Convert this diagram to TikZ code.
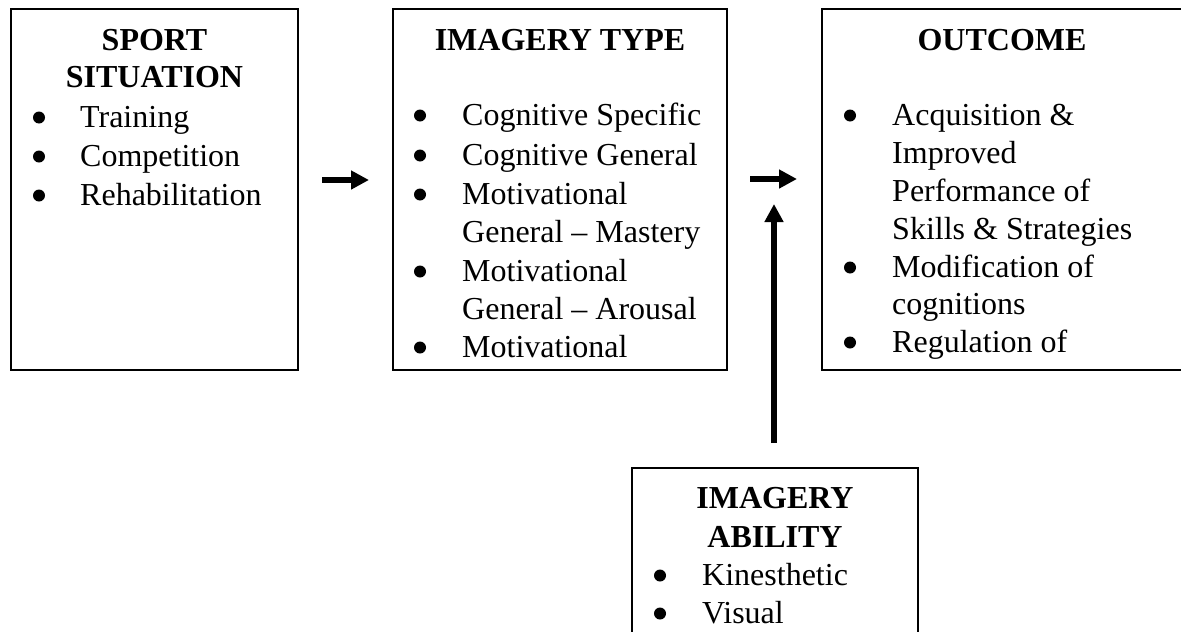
\documentclass[tikz,border=0pt]{standalone}
\usepackage{fontspec}
\setmainfont{Liberation Serif}
\usetikzlibrary{arrows.meta}
\begin{document}
\begin{tikzpicture}[x=1pt,y=-1pt,
  box/.style={draw=black,line width=1.6pt,fill=none},
  ttl/.style={anchor=base,inner sep=0pt,font=\fontsize{32}{39}\selectfont\bfseries},
  txt/.style={anchor=base west,inner sep=0pt,font=\fontsize{32}{39}\selectfont},
  bul/.style={circle,fill=black,inner sep=0pt,minimum size=12pt,yshift=9.5pt},
  arr/.style={line width=6pt,-{Triangle[length=18pt,width=18pt]}}]
\useasboundingbox (0,0) rectangle (1181,632);
\fill[white] (0,0) rectangle (1181,632);
% boxes
\draw[box] (11,9) rectangle (298,370);
\draw[box] (393,9) rectangle (727,370);
\draw[box] (822,9) rectangle (1190,370);
\draw[box] (632,640) -- (632,468) -- (918,468) -- (918,640);
% box 1
\node[ttl] (t1a) at (154.5,50) {SPORT};
\node[ttl] (t1b) at (154.5,87) {SITUATION};
\foreach \yy/\tt [count=\i] in {127/Training,166/Competition,205/Rehabilitation}{
  \node[bul] (sb\i) at (39,\yy) {};
  \node[txt] (s\i) at (80,\yy) {\tt};
}
% box 2
\node[ttl] (t2) at (560,50) {IMAGERY TYPE};
\foreach \yy in {125,165,204,281,357}{
  \node[bul] (ib\yy) at (420,\yy) {};
}
\foreach \yy/\tt [count=\i] in {125/Cognitive Specific,165/Cognitive General,204/Motivational,242/General -- Mastery,281/Motivational,319/General -- Arousal,357/Motivational}{
  \node[txt] (i\i) at (462,\yy) {\tt};
}
% box 3
\node[ttl] (t3) at (1002,50) {OUTCOME};
\foreach \yy in {125,277,352}{
  \node[bul] (ob\yy) at (850,\yy) {};
}
\foreach \yy/\tt [count=\i] in {125/Acquisition \&,163/Improved,201/Performance of,239/Skills \& Strategies,277/Modification of,314/cognitions,352/Regulation of}{
  \node[txt] (o\i) at (892,\yy) {\tt};
}
% box 4
\node[ttl] (t4a) at (775,508) {IMAGERY};
\node[ttl] (t4b) at (775,547) {ABILITY};
\foreach \yy/\tt [count=\i] in {585/Kinesthetic,623/Visual}{
  \node[bul] (ab\i) at (660,\yy) {};
  \node[txt] (a\i) at (702,\yy) {\tt};
}
% arrows
\coordinate (a1s) at (322,180);
\coordinate (a1e) at (369,180);
\coordinate (a2s) at (750,179);
\coordinate (a2e) at (797,179);
\coordinate (a3s) at (774,443);
\coordinate (a3e) at (774,204);
\draw[arr] (a1s) -- (a1e);
\draw[arr] (a2s) -- (a2e);
\draw[arr] (a3s) -- (a3e);
\end{tikzpicture}
\end{document}
